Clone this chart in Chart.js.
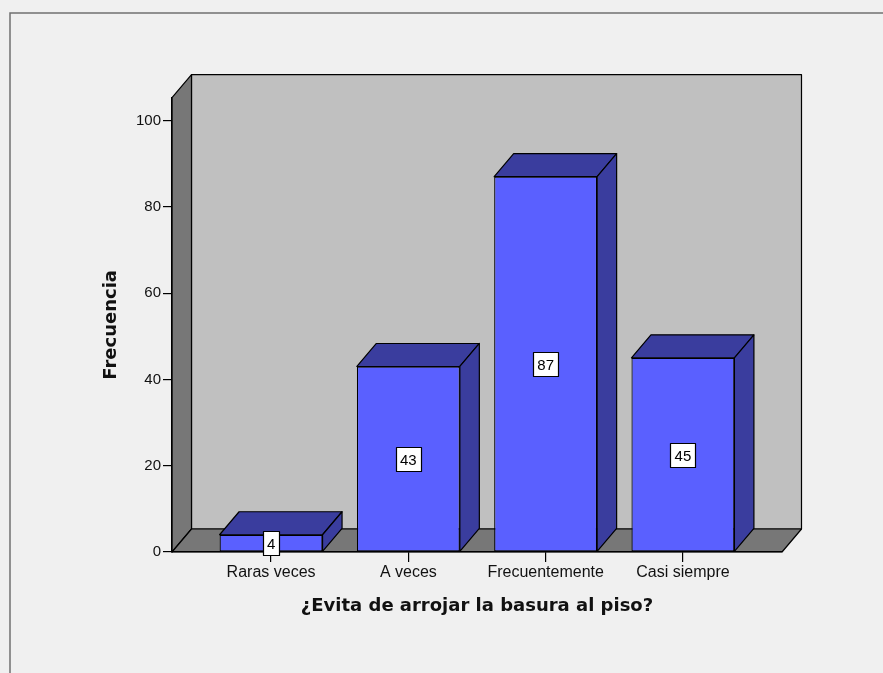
<!DOCTYPE html>
<html>
<head>
<meta charset="utf-8">
<script src="https://cdn.jsdelivr.net/npm/chart.js@4.4.1/dist/chart.umd.min.js"></script>
<style>
  html, body { margin: 0; padding: 0; background: #f0f0f0; }
  #wrap { width: 883px; height: 673px; }
</style>
</head>
<body>
<div id="wrap"><canvas id="chart" width="883" height="673"></canvas></div>
<script>
const categories = ["Raras veces", "A veces", "Frecuentemente", "Casi siempre"];
const frequencies = [4, 43, 87, 45];
const yTicks = [0, 20, 40, 60, 80, 100];

const DEPTH_X = 19.5;
const DEPTH_Y = 23;
const FRONT_BLUE = "#5a60ff";
const DARK_BLUE = "#3a3d9e";

function poly(ctx, pts, fill) {
  ctx.beginPath();
  ctx.moveTo(pts[0][0], pts[0][1]);
  for (let i = 1; i < pts.length; i++) ctx.lineTo(pts[i][0], pts[i][1]);
  ctx.closePath();
  ctx.fillStyle = fill;
  ctx.fill();
  ctx.strokeStyle = "#000";
  ctx.lineWidth = 1.2;
  ctx.lineJoin = "round";
  ctx.stroke();
}

// background, frame and the 3D box (back wall, left wall, floor)
const boxPlugin = {
  id: "box3d",
  beforeDraw(chart) {
    const ctx = chart.ctx;
    const a = chart.chartArea;
    ctx.save();
    ctx.fillStyle = "#f0f0f0";
    ctx.fillRect(0, 0, chart.width, chart.height);

    ctx.strokeStyle = "#707070";
    ctx.lineWidth = 1.5;
    ctx.beginPath();
    ctx.moveTo(chart.width, 13);
    ctx.lineTo(10, 13);
    ctx.lineTo(10, chart.height);
    ctx.stroke();

    const L = a.left, R = a.right, T = a.top, B = a.bottom;
    poly(ctx, [[L + DEPTH_X, T - DEPTH_Y], [R + DEPTH_X, T - DEPTH_Y], [R + DEPTH_X, B - DEPTH_Y], [L + DEPTH_X, B - DEPTH_Y]], "#c0c0c0");
    poly(ctx, [[L, T], [L + DEPTH_X, T - DEPTH_Y], [L + DEPTH_X, B - DEPTH_Y], [L, B]], "#777777");
    poly(ctx, [[L, B], [L + DEPTH_X, B - DEPTH_Y], [R + DEPTH_X, B - DEPTH_Y], [R, B]], "#777777");
    ctx.restore();
  },
  afterDatasetsDraw(chart) {
    const ctx = chart.ctx;
    const meta = chart.getDatasetMeta(0);
    ctx.save();
    meta.data.forEach((bar) => {
      const { x, y, base, width } = bar.getProps(["x", "y", "base", "width"], true);
      const l = x - width / 2, r = x + width / 2;
      // top face
      poly(ctx, [[l, y], [l + DEPTH_X, y - DEPTH_Y], [r + DEPTH_X, y - DEPTH_Y], [r, y]], DARK_BLUE);
      // side face
      poly(ctx, [[r, y], [r + DEPTH_X, y - DEPTH_Y], [r + DEPTH_X, base - DEPTH_Y], [r, base]], DARK_BLUE);
    });
    // value boxes
    ctx.font = "15px 'Liberation Sans', Arial, sans-serif";
    ctx.textAlign = "center";
    ctx.textBaseline = "middle";
    meta.data.forEach((bar, i) => {
      const { x, y, base } = bar.getProps(["x", "y", "base"], true);
      const txt = String(frequencies[i]);
      const w = Math.round(ctx.measureText(txt).width + 8);
      const h = 24;
      const bx = Math.round(x - w / 2) + 0.5;
      const by = Math.round((y + base) / 2 - h / 2) + 0.5;
      ctx.fillStyle = "#ffffff";
      ctx.fillRect(bx, by, w, h);
      ctx.strokeStyle = "#000";
      ctx.lineWidth = 1.2;
      ctx.strokeRect(bx, by, w, h);
      ctx.fillStyle = "#000";
      ctx.fillText(txt, x, by + h / 2 + 1);
    });
    ctx.restore();
  }
};

new Chart(document.getElementById("chart"), {
  type: "bar",
  data: {
    datasets: [{
      label: "Frecuencia",
      data: frequencies.map((v, i) => ({ x: i, y: v })),
      backgroundColor: FRONT_BLUE,
      borderColor: "#000",
      borderWidth: 1.2,
      borderSkipped: false,
      barPercentage: 0.75,
      categoryPercentage: 1
    }]
  },
  options: {
    responsive: false,
    animation: false,
    layout: { padding: { top: 97.7, right: 101, bottom: 0, left: 0 } },
    plugins: {
      legend: { display: false },
      tooltip: { enabled: false }
    },
    scales: {
      x: {
        type: "linear",
        offset: false,
        min: -0.7216,
        max: 3.7216,
        afterBuildTicks(scale) {
          scale.ticks = categories.map((_, i) => ({ value: i }));
        },
        afterFit(scale) { scale.height = 121; },
        grid: { display: true, offset: false, drawOnChartArea: false, tickLength: 10, color: "#000", lineWidth: 1.2 },
        border: { display: true, color: "#000", width: 1.2 },
        ticks: {
          autoSkip: false,
          maxRotation: 0,
          padding: 1,
          color: "#111",
          font: { family: "'Liberation Sans', Arial, sans-serif", size: 16 },
          callback: (v) => categories[v]
        },
        title: {
          display: true,
          text: "¿Evita de arrojar la basura al piso?",
          color: "#111",
          font: { family: "'DejaVu Sans', sans-serif", size: 18, weight: "bold" },
          padding: { top: 0, bottom: 56 }
        }
      },
      y: {
        min: 0,
        max: 105.3,
        afterBuildTicks(scale) {
          scale.ticks = yTicks.map(v => ({ value: v }));
        },
        afterFit(scale) { scale.width = 172; },
        grid: { display: true, drawOnChartArea: false, tickLength: 9, color: "#000", lineWidth: 1.2 },
        border: { display: true, color: "#000", width: 1.2 },
        ticks: {
          padding: 2,
          color: "#111",
          font: { family: "'Liberation Sans', Arial, sans-serif", size: 15 }
        },
        title: {
          display: true,
          text: "Frecuencia",
          color: "#111",
          font: { family: "'DejaVu Sans', sans-serif", size: 18, weight: "bold" },
          padding: { top: 101, bottom: 0 }
        }
      }
    }
  },
  plugins: [boxPlugin]
});
</script>
</body>
</html>
